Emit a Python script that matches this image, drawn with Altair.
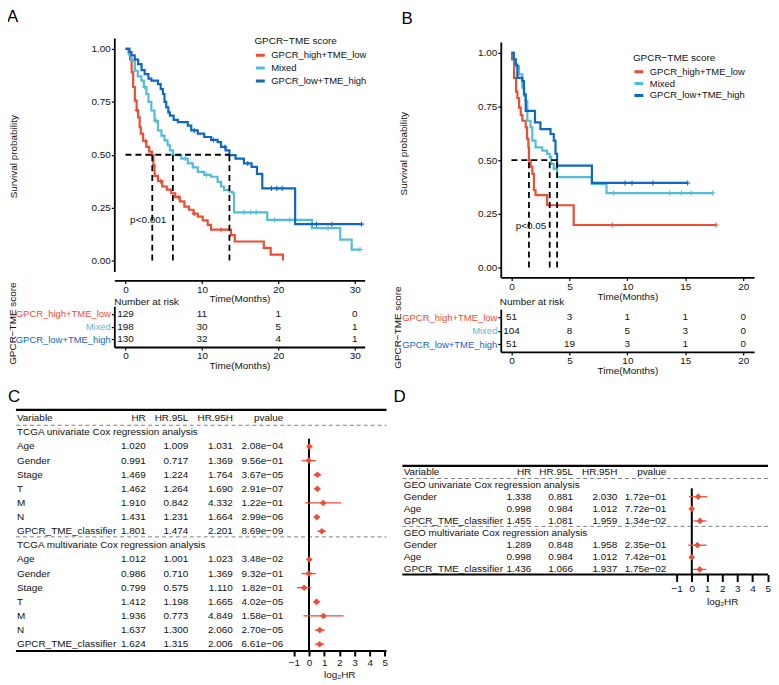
import altair as alt
import pandas as pd

FONT = "Liberation Sans"
MINUS = "\u2212"
TXT = "#111111"

GROUPS = ["GPCR_high+TME_low", "Mixed", "GPCR_low+TME_high"]
COLORS = ["#EE4C34", "#52BCDA", "#0F67C4"]
RED, LIGHT, DARK = COLORS
LEGEND_TITLE = "GPCR" + MINUS + "TME score"

# ---------------- Panel A: TCGA Kaplan-Meier (time in months, survival) ----------------
A_HIGH_T = [0, 0.4, 0.6, 0.8, 1.0, 1.22, 1.45, 1.65, 1.85, 2.0, 2.3, 2.72, 3.1, 3.46, 3.65, 3.8, 4.25,
            4.8, 5.4, 6.0, 6.5, 7.1, 7.7, 8.3, 8.9, 9.45, 10.1, 10.75, 11.2, 13.8, 14.3, 18.1, 19.0, 20.6]
A_HIGH_S = [1.0, 0.98, 0.95, 0.89, 0.82, 0.756, 0.71, 0.677, 0.63, 0.60, 0.565, 0.537, 0.515, 0.498, 0.45,
            0.40, 0.375, 0.35, 0.335, 0.318, 0.30, 0.28, 0.255, 0.24, 0.222, 0.208, 0.19, 0.169, 0.146,
            0.12, 0.09, 0.06, 0.028, 0.0]
A_MIX_T = [0, 0.5, 0.78, 1.22, 1.6, 2.08, 2.4, 2.73, 3.0, 3.38, 3.8, 4.25, 4.7, 5.1, 5.5, 5.8, 6.2, 7.3,
           8.15, 8.8, 9.45, 10.3, 11.2, 12.05, 12.5, 12.9, 13.6, 14.0, 14.2, 18.55, 24.4, 28.1, 29.6, 30.7]
A_MIX_S = [1.0, 0.97, 0.944, 0.897, 0.87, 0.85, 0.82, 0.787, 0.75, 0.709, 0.66, 0.615, 0.59, 0.568, 0.545,
           0.521, 0.498, 0.482, 0.459, 0.44, 0.419, 0.405, 0.396, 0.372, 0.35, 0.333, 0.325, 0.318, 0.228,
           0.192, 0.153, 0.099, 0.052, 0.052]
A_LOW_T = [0, 0.5, 0.78, 1.2, 1.65, 2.1, 2.5, 3.0, 3.38, 4.25, 4.6, 4.9, 5.1, 5.33, 5.6, 5.8, 6.3, 6.85,
           8.15, 8.6, 9.45, 10.3, 11.2, 12.05, 12.5, 13.1, 13.6, 14.4, 15.5, 16.5, 17.2, 17.9, 22.2, 30.9]
A_LOW_S = [1.0, 0.985, 0.97, 0.95, 0.928, 0.90, 0.881, 0.86, 0.85, 0.834, 0.81, 0.787, 0.75, 0.724, 0.70,
           0.685, 0.665, 0.654, 0.638, 0.615, 0.60, 0.584, 0.57, 0.56, 0.537, 0.521, 0.498, 0.482, 0.459,
           0.443, 0.41, 0.341, 0.172, 0.172]
A_HIGH_CENS = [1.5, 2.6, 4.6, 6.9, 9.0, 12.5]
A_MIX_CENS = [2.5, 4.0, 7.8, 10.6, 15.5, 16.4, 17.1, 19.5, 21.5, 26.5, 30.7]
A_LOW_CENS = [9.0, 11.5, 13.0, 16.0, 19.1, 19.8, 20.5, 25.0, 27.0, 30.9]
A_MEDIANS = [3.5, 6.2, 13.6]
A_PVAL = "p<0.001"
A_PVAL_T, A_PVAL_S = 0.6, 0.19
A_RISK_TIMES = [0, 10, 20, 30]
A_RISK_HIGH = [129, 11, 1, 0]
A_RISK_MIXED = [198, 30, 5, 1]
A_RISK_LOW = [130, 32, 4, 1]

# ---------------- Panel B: GEO Kaplan-Meier ----------------
B_HIGH_T = [0, 0.05, 0.23, 0.4, 0.51, 0.66, 0.8, 0.94, 1.23, 1.35, 1.46, 1.51, 1.65, 1.8, 1.94, 2.08,
            3.08, 5.37, 17.65]
B_HIGH_S = [1.0, 0.97, 0.884, 0.82, 0.79, 0.745, 0.71, 0.684, 0.653, 0.60, 0.56, 0.499, 0.47, 0.437,
            0.36, 0.337, 0.29, 0.198, 0.198]
B_MIX_T = [0, 0.2, 0.37, 0.65, 0.94, 1.1, 1.23, 1.37, 1.65, 1.8, 2.08, 2.66, 3.08, 3.3, 3.43, 3.65, 3.94,
           6.94, 8.2, 17.36]
B_MIX_S = [1.0, 0.97, 0.938, 0.90, 0.838, 0.80, 0.776, 0.684, 0.653, 0.591, 0.56, 0.545, 0.53, 0.514,
           0.483, 0.46, 0.421, 0.39, 0.347, 0.347]
B_LOW_T = [0, 0.2, 0.37, 0.51, 0.94, 1.08, 1.23, 2.03, 2.5, 3.37, 3.65, 3.8, 3.94, 6.94, 15.2]
B_LOW_S = [1.0, 0.97, 0.946, 0.884, 0.869, 0.807, 0.73, 0.676, 0.645, 0.622, 0.591, 0.53, 0.475, 0.394,
           0.394]
B_HIGH_CENS = [8.7, 17.65]
B_MIX_CENS = [8.8, 13.65, 14.65, 15.5, 17.36]
B_LOW_CENS = [9.8, 10.4, 12.2, 15.2]
B_MEDIANS = [1.51, 3.3, 3.94]
B_PVAL = "p<0.05"
B_PVAL_T, B_PVAL_S = 0.37, 0.194
B_RISK_TIMES = [0, 5, 10, 15, 20]
B_RISK_HIGH = [51, 3, 1, 1, 0]
B_RISK_MIXED = [104, 8, 5, 3, 0]
B_RISK_LOW = [51, 19, 3, 1, 0]

# ---------------- Panel C: TCGA Cox regression ----------------
COLS = ["Variable", "HR", "HR.95L", "HR.95H", "pvalue"]
C_SECTIONS = ["TCGA univariate Cox regression analysis", "TCGA multivariate Cox regression analysis"]
C_VARS = ["Age", "Gender", "Stage", "T", "M", "N", "GPCR_TME_classifier"]
C_UNI_HR = [1.020, 0.991, 1.469, 1.462, 1.910, 1.431, 1.801]
C_UNI_L = [1.009, 0.717, 1.224, 1.264, 0.842, 1.231, 1.474]
C_UNI_H = [1.031, 1.369, 1.764, 1.690, 4.332, 1.664, 2.201]
C_UNI_P = [2.08e-04, 9.56e-01, 3.67e-05, 2.91e-07, 1.22e-01, 2.99e-06, 8.69e-09]
C_MULTI_HR = [1.012, 0.986, 0.799, 1.412, 1.936, 1.637, 1.624]
C_MULTI_L = [1.001, 0.710, 0.575, 1.198, 0.773, 1.300, 1.315]
C_MULTI_H = [1.023, 1.369, 1.110, 1.665, 4.849, 2.060, 2.006]
C_MULTI_P = [3.48e-02, 9.32e-01, 1.82e-01, 4.02e-05, 1.58e-01, 2.70e-05, 6.61e-06]

# ---------------- Panel D: GEO Cox regression ----------------
D_SECTIONS = ["GEO univariate Cox regression analysis", "GEO multivariate Cox regression analysis"]
D_VARS = ["Gender", "Age", "GPCR_TME_classifier"]
D_UNI_HR = [1.338, 0.998, 1.455]
D_UNI_L = [0.881, 0.984, 1.081]
D_UNI_H = [2.030, 1.012, 1.959]
D_UNI_P = [1.72e-01, 7.72e-01, 1.34e-02]
D_MULTI_HR = [1.289, 0.998, 1.436]
D_MULTI_L = [0.848, 0.984, 1.066]
D_MULTI_H = [1.958, 1.012, 1.937]
D_MULTI_P = [2.35e-01, 7.42e-01, 1.75e-02]


def surv_at(ts, ss, t):
    val = ss[0]
    for ti, si in zip(ts, ss):
        if ti <= t:
            val = si
    return val


def axis_common(**kw):
    base = dict(labelFont=FONT, titleFont=FONT, labelColor=TXT, titleColor=TXT, labelFontSize=10,
                titleFontSize=10, titleFontWeight="normal", grid=False, domainColor="black",
                tickColor="black", labelFlush=False, labelOverlap=False)
    base.update(kw)
    return alt.Axis(**base)


def letter_title(letter, dx, dy, offset):
    return alt.TitleParams(letter, anchor="start", frame="group", dx=dx, dy=dy, offset=offset,
                           fontSize=17, fontWeight="normal", font=FONT, color="black")


def km_panel(letter, letter_dx, curves, censors, medians, pval, pval_t, pval_s, xdom, xticks, width,
             height, xrange, ydom, yrange, ytitle_x, ytitle_y, xtitle_y, legend_x, legend_y, entry_h,
             xaxis_offset=0):
    line_rows, cens_rows = [], []
    for g, (ts, ss), cs in zip(GROUPS, curves, censors):
        for i, (t, s) in enumerate(zip(ts, ss)):
            line_rows.append({"group": g, "t": t, "s": s, "o": i})
        for t in cs:
            cens_rows.append({"group": g, "t": t, "s": surv_at(ts, ss, t)})
    med_rows = [{"t": 0.0, "t2": max(medians), "s": 0.5, "s2": 0.5}]
    med_rows += [{"t": m, "t2": m, "s": 0.0, "s2": 0.5} for m in medians]

    xs = alt.Scale(domain=xdom, range=xrange, nice=False, zero=False)
    ys = alt.Scale(domain=ydom, range=yrange, nice=False, zero=False)
    xaxis = axis_common(values=xticks, title="Time(Months)", titleY=xtitle_y, tickSize=3,
                        labelPadding=1, domainWidth=1.8, tickWidth=1.2, offset=xaxis_offset)
    yaxis = axis_common(values=[0, 0.25, 0.5, 0.75, 1.0], format=".2f", title="Survival probability",
                        titleX=ytitle_x, titleY=ytitle_y, offset=-xrange[0], tickSize=3,
                        labelPadding=1, domainWidth=1.8, tickWidth=1.2)
    enc = dict(x=alt.X("t:Q", scale=xs, axis=xaxis), y=alt.Y("s:Q", scale=ys, axis=yaxis))
    cscale = alt.Scale(domain=GROUPS, range=COLORS)
    legend = alt.Legend(title=LEGEND_TITLE, orient="none", legendX=legend_x, legendY=legend_y,
                        symbolType="stroke", symbolStrokeWidth=3, symbolSize=80, labelFontSize=9.5,
                        titleFontSize=10, titleFontWeight="normal", labelFont=FONT, titleFont=FONT,
                        rowPadding=0, clipHeight=entry_h, labelOffset=5, padding=0, titlePadding=3,
                        labelColor=TXT, titleColor=TXT, labelLimit=200)
    lines = alt.Chart(pd.DataFrame(line_rows)).mark_line(interpolate="step-after", strokeWidth=2.2).encode(
        color=alt.Color("group:N", scale=cscale, legend=legend), order="o:Q", **enc)
    cens = alt.Chart(pd.DataFrame(cens_rows)).mark_point(
        shape="M0,-1V1M-1,0H1", filled=False, size=26, strokeWidth=1.1, opacity=1).encode(
        color=alt.Color("group:N", scale=cscale, legend=None), **enc)
    meds = alt.Chart(pd.DataFrame(med_rows)).mark_rule(color="black", strokeDash=[6, 4], strokeWidth=1.8).encode(
        x2="t2:Q", y2="s2:Q", **enc)
    ptxt = alt.Chart(pd.DataFrame({"t": [pval_t], "s": [pval_s], "label": [pval]})).mark_text(
        align="left", font=FONT, fontSize=10, color=TXT).encode(text="label:N", **enc)
    return alt.layer(lines, cens, meds, ptxt).properties(
        width=width, height=height, title=letter_title(letter, letter_dx, 0, 10))


def risk_panel(times, counts, xdom, xticks, xrange, width, height, yrange, ytitle_x, ytitle_y, xtitle_y,
               title_dx, title_dy):
    rows = [{"group": g, "t": t, "n": str(n)} for g, cs in zip(GROUPS, counts) for t, n in zip(times, cs)]
    label_color = {"condition": [{"test": "datum.value === '%s'" % GROUPS[0], "value": RED},
                                 {"test": "datum.value === '%s'" % GROUPS[1], "value": LIGHT}],
                   "value": DARK}
    x = alt.X("t:Q", scale=alt.Scale(domain=xdom, range=xrange, nice=False, zero=False),
              axis=axis_common(values=xticks, title="Time(Months)", titleY=xtitle_y, tickSize=3,
                               labelPadding=1, domainWidth=1.8, tickWidth=1.2))
    y = alt.Y("group:N", sort=GROUPS,
              scale=alt.Scale(type="point", domain=GROUPS, range=yrange, padding=0.59),
              axis=axis_common(title=LEGEND_TITLE, titleX=ytitle_x, titleY=ytitle_y, offset=-xrange[0],
                               labelColor=label_color, labelFontSize=9.5, tickSize=3, labelPadding=1,
                               domainWidth=1.8, tickWidth=1.2, labelLimit=200))
    return alt.Chart(pd.DataFrame(rows)).mark_text(font=FONT, fontSize=10, color=TXT).encode(
        x=x, y=y, text="n:N").properties(
        width=width, height=height,
        title=alt.TitleParams("Number at risk", anchor="start", frame="group", dx=title_dx, dy=title_dy,
                              offset=0, fontSize=10, fontWeight="normal", font=FONT, color=TXT))


def forest_panel(letter, letter_dx, letter_dy, sections, names, blocks, width, height, ydom, yrange,
                 col_x, xrange, sep_rows, zero_from, tick_size, xtitle_y):
    text_rows = [{"row": 0, "col": c, "txt": c} for c in COLS]
    est_rows = []
    r = 1
    for sec, (hr, lo, hi, pv) in zip(sections, blocks):
        text_rows.append({"row": r, "col": "Variable", "txt": sec})
        r += 1
        for name, a, b, c, p in zip(names, hr, lo, hi, pv):
            vals = [name, "%.3f" % a, "%.3f" % b, "%.3f" % c, ("%.2e" % p).replace("-", MINUS)]
            for col, v in zip(COLS, vals):
                text_rows.append({"row": r, "col": col, "txt": v})
            est_rows.append({"row": r, "HR": a, "L": b, "H": c})
            r += 1
    tdf = pd.DataFrame(text_rows)
    edf = pd.DataFrame(est_rows)

    Y = alt.Y("row:Q", scale=alt.Scale(domain=ydom, range=yrange, nice=False, zero=False), axis=None)
    xs = alt.Scale(domain=[-1, 5], range=xrange, nice=False, zero=False)
    xaxis = axis_common(values=[-1, 0, 1, 2, 3, 4, 5], format="d", title="log\u2082HR", titleY=xtitle_y,
                        domain=False, tickSize=tick_size, tickWidth=2, labelPadding=2)

    def X(f):
        return alt.X(f, type="quantitative", scale=xs, axis=xaxis)

    frame = alt.Chart(pd.DataFrame({"row": ydom})).mark_rule(color="black", strokeWidth=2.2).encode(
        y=Y, x=alt.value(0), x2=alt.value(width))
    seps = alt.Chart(pd.DataFrame({"row": sep_rows})).mark_rule(
        color="#808080", strokeWidth=1, strokeDash=[4, 3]).encode(y=Y, x=alt.value(0), x2=alt.value(width))
    zero = alt.Chart(pd.DataFrame({"lhr": [0.0], "row": [zero_from], "row2": [ydom[1]]})).mark_rule(
        color="black", strokeWidth=2).encode(x=X("lhr"), y=Y, y2="row2:Q")
    calc = dict(lhr="log(datum.HR)/LN2", llo="log(datum.L)/LN2", lhi="log(datum.H)/LN2")
    err = alt.Chart(edf).transform_calculate(**calc).mark_rule(color=RED, strokeWidth=1.3).encode(
        x=X("llo"), x2="lhi:Q", y=Y)
    pts = alt.Chart(edf).transform_calculate(**calc).mark_point(
        shape="diamond", filled=True, size=45, color=RED, opacity=1).encode(x=X("lhr"), y=Y)
    layers = [frame, seps, zero, err, pts]
    for col, cx in zip(COLS, col_x):
        layers.append(alt.Chart(tdf).transform_filter(alt.datum.col == col).mark_text(
            align="left" if col == "Variable" else "right", font=FONT, fontSize=10, color=TXT).encode(
            x=alt.value(cx), y=Y, text="txt:N"))
    return alt.layer(*layers).properties(width=width, height=height,
                                         title=letter_title(letter, letter_dx, letter_dy, 0))


km_a = km_panel("A", -9, [(A_HIGH_T, A_HIGH_S), (A_MIX_T, A_MIX_S), (A_LOW_T, A_LOW_S)],
                [A_HIGH_CENS, A_MIX_CENS, A_LOW_CENS], A_MEDIANS, A_PVAL, A_PVAL_T, A_PVAL_S,
                xdom=[-1.47, 31.3], xticks=[0, 10, 20, 30], width=351, height=235, xrange=[99, 351],
                ydom=[-0.0516, 1.0516], yrange=[235, 0], ytitle_x=-96, ytitle_y=119, xtitle_y=13,
                legend_x=240, legend_y=-2, entry_h=12.5, xaxis_offset=9)
km_b = km_panel("B", -1, [(B_HIGH_T, B_HIGH_S), (B_MIX_T, B_MIX_S), (B_LOW_T, B_LOW_S)],
                [B_HIGH_CENS, B_MIX_CENS, B_LOW_CENS], B_MEDIANS, B_PVAL, B_PVAL_T, B_PVAL_S,
                xdom=[-0.92, 20.93], xticks=[0, 5, 10, 15, 20], width=354, height=241, xrange=[99, 354],
                ydom=[-0.0463, 1.0509], yrange=[241, 4], ytitle_x=-93, ytitle_y=116, xtitle_y=14.5,
                legend_x=232, legend_y=15, entry_h=11.7)
risk_a = risk_panel(A_RISK_TIMES, [A_RISK_HIGH, A_RISK_MIXED, A_RISK_LOW], [-1.47, 31.3], [0, 10, 20, 30],
                    [99, 351], 351, 41, [0, 41], ytitle_x=-97, ytitle_y=17, xtitle_y=13.5,
                    title_dx=99, title_dy=25)
risk_b = risk_panel(B_RISK_TIMES, [B_RISK_HIGH, B_RISK_MIXED, B_RISK_LOW], [-0.92, 20.93],
                    [0, 5, 10, 15, 20], [99, 354], 354, 46, [3, 46], ytitle_x=-99, ytitle_y=21,
                    xtitle_y=14, title_dx=98, title_dy=21)
forest_c = forest_panel("C", -8, 25, C_SECTIONS, C_VARS,
                        [(C_UNI_HR, C_UNI_L, C_UNI_H, C_UNI_P), (C_MULTI_HR, C_MULTI_L, C_MULTI_H, C_MULTI_P)],
                        width=373, height=272, ydom=[-0.59, 16.48], yrange=[29.3, 272],
                        col_x=[1, 130.7, 173.5, 218.3, 269], xrange=[279.7, 371.3], sep_rows=[0.5, 8.4],
                        zero_from=1.45, tick_size=5, xtitle_y=19)
forest_d = forest_panel("D", -9, 25, D_SECTIONS, D_VARS,
                        [(D_UNI_HR, D_UNI_L, D_UNI_H, D_UNI_P), (D_MULTI_HR, D_MULTI_L, D_MULTI_H, D_MULTI_P)],
                        width=368, height=195, ydom=[-0.54, 8.42], yrange=[85.7, 195],
                        col_x=[1.3, 129.7, 171.7, 216.3, 265.7], xrange=[276, 367.7], sep_rows=[0.5, 4.45],
                        zero_from=1.31, tick_size=7, xtitle_y=22)

chart = alt.concat(km_a, km_b, risk_a, risk_b, forest_c, forest_d, columns=2,
                   spacing={"row": 29, "column": 16}, bounds="flush", align="each").resolve_scale(
    x="independent", y="independent", color="independent").properties(
    padding={"left": -1, "top": -2, "right": 0, "bottom": 0}).configure(
    font=FONT).configure_view(stroke=None)

chart.save("out.html", embed_options={"renderer": "svg", "actions": False})
